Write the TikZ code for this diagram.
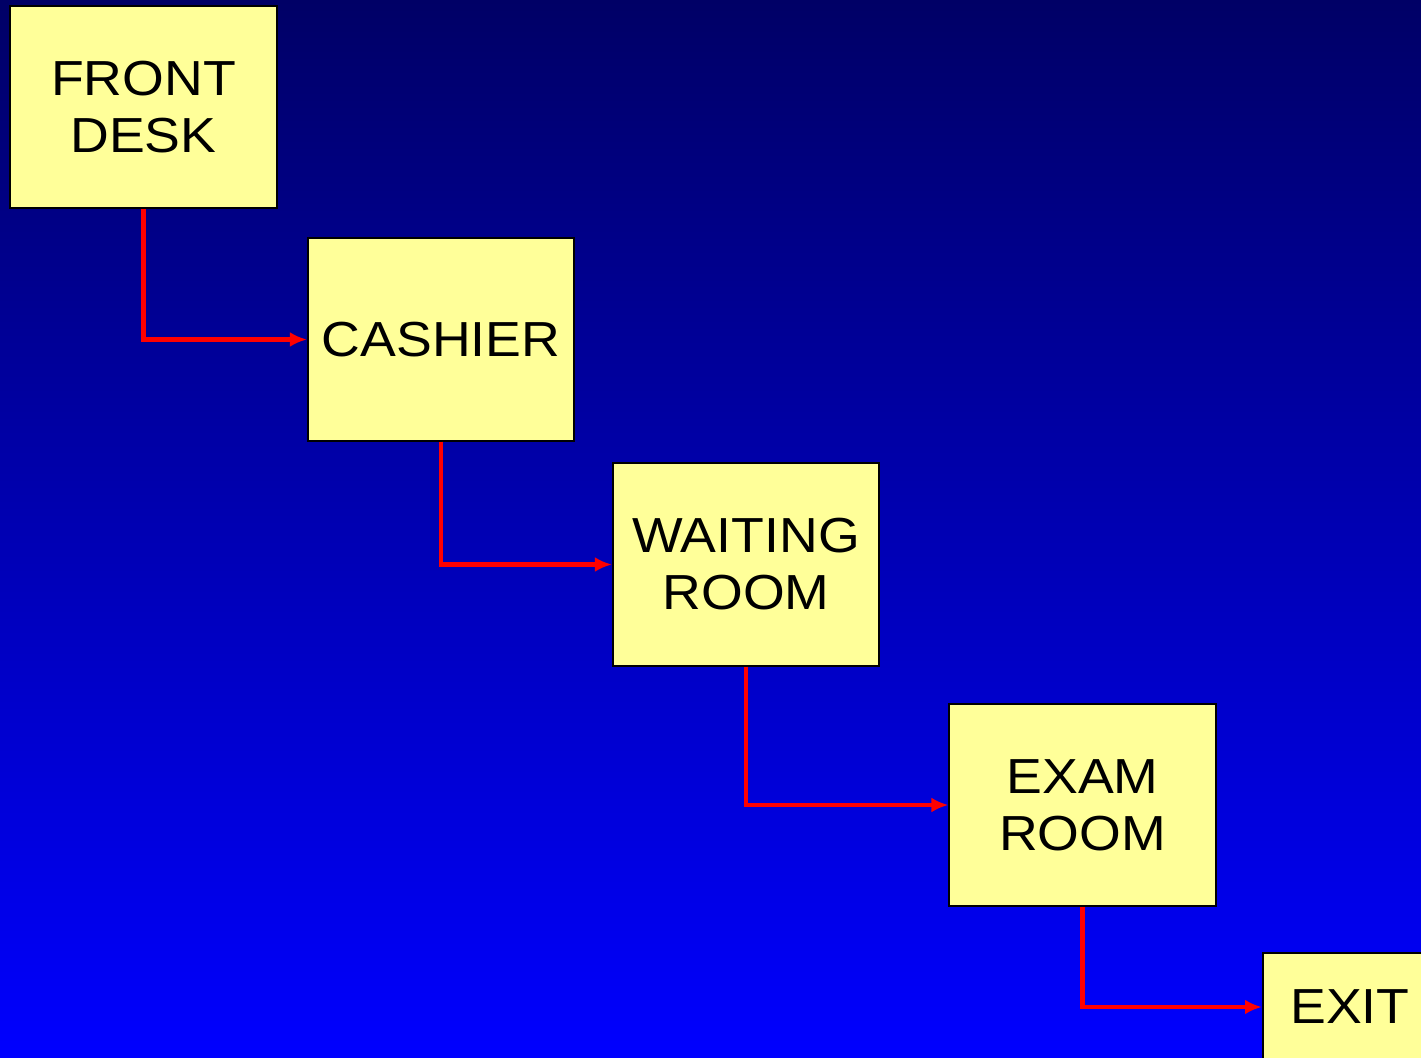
\documentclass[tikz,border=0pt]{standalone}
\usepackage{fontspec}
\setmainfont{Liberation Sans}[FakeStretch=1.09]
\usepackage{tikz}
\usetikzlibrary{
  arrows.meta,
  positioning
}
\definecolor{skytopcolor}{RGB}{0, 0, 102}
\definecolor{skymidcolor}{RGB}{0, 0, 210}
\definecolor{skybottomcolor}{RGB}{0, 0, 255}
\definecolor{boxcolor}{RGB}{255, 255, 153}
\definecolor{flowcolor}{RGB}{255, 0, 0}
\tikzset{
roomtext/.style={
  align=center,
  font=\fontsize{14}{16.2}\selectfont,
  text=black
},
roombox/.style={
  draw=black,
  line width=0.6pt,
  fill=boxcolor,
  minimum height=2.02cm,
  minimum width=2.66cm,
  inner sep=0pt,
  roomtext
},
flow/.style={
  -{Latex[length=4.8pt,width=4.2pt]},
  line width=1.2pt,
  draw=flowcolor
}
}
\begin{document}
\begin{tikzpicture}[x=0.01cm, y=-0.01cm]
  % background
  \shade[top color=skytopcolor, middle color=skymidcolor, bottom color=skybottomcolor]
    (0,0) rectangle (1421,1058);
  \useasboundingbox (0,0) rectangle (1421,1058);
  \begin{scope}
    \clip (0,0) rectangle (1421,1058);
    % rooms
    \node[roombox] (frontdesk) at (143.5,107) {FRONT\\DESK};
    \node[roombox] (cashier) at (441,339.5) {CASHIER};
    \node[roombox] (waiting) at (746,564.5) {WAITING\\ROOM};
    \node[roombox] (exam) at (1082.5,805) {EXAM\\ROOM};
    \node[roombox, minimum width=1.74cm, minimum height=1.08cm] (exit) at (1350,1007) {EXIT};
    % paths between rooms
    \draw[flow] (frontdesk.south) |- (cashier.west);
    \draw[flow] (cashier.south) |- (waiting.west);
    \draw[flow] (waiting.south) |- (exam.west);
    \draw[flow] (exam.south) |- (exit.west);
  \end{scope}
\end{tikzpicture}
\end{document}
